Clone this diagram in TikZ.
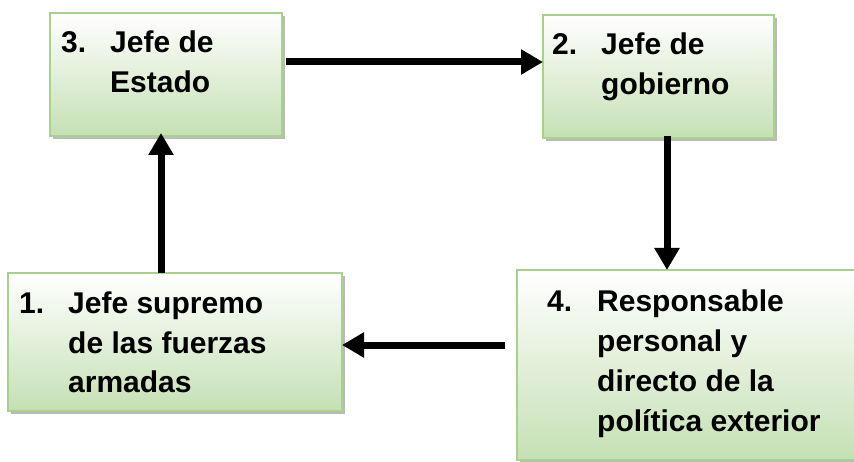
\documentclass[tikz,border=0pt]{standalone}
\usepackage{fontspec}
\setmainfont{Liberation Sans}
\usepackage{tikz}
\usetikzlibrary{arrows.meta}
\usetikzlibrary{shadows}
\definecolor{boxline}{RGB}{169,209,142}
\definecolor{boxfill}{RGB}{197,224,180}
\tikzset{
  box/.style={draw=boxline, line width=2.5pt, top color=white, bottom color=boxfill,
    inner sep=0pt, outer sep=0pt, anchor=north west,
    drop shadow={shadow xshift=3pt, shadow yshift=-3pt, fill=black!60, opacity=0.45}},
  lbl/.style={inner sep=0pt, anchor=base west, font=\fontsize{30}{40}\selectfont\bfseries},
  arr/.style={line width=7pt, -{Triangle[length=22pt,width=24pt]}}
}
\begin{document}
\begin{tikzpicture}[x=1pt,y=-1pt]
          \useasboundingbox (0,0) rectangle (854,462);
          \clip (0,0) rectangle (854,462);
          \node[box, minimum width=232pt, minimum height=123pt] (tid3) at (50,13){};
          \node[box, minimum width=231pt, minimum height=123pt] (tid2) at (543,15){};
          \node[box, minimum width=334pt, minimum height=138pt] (tid1) at (8,273){};
          \node[box, minimum width=345pt, minimum height=190pt] (tid4) at (517,270){};
          \node[lbl] (txt3) at ([shift={(11,40)}]tid3.north west)
            {\begin{tabular}[t]{@{}p{49pt}@{}l@{}}3. & Jefe de\\ & Estado\end{tabular}};
          \node[lbl] (txt2) at ([shift={(9,40)}]tid2.north west)
            {\begin{tabular}[t]{@{}p{49pt}@{}l@{}}2. & Jefe de\\ & gobierno\end{tabular}};
          \node[lbl] (txt1) at ([shift={(11,40)}]tid1.north west)
            {\begin{tabular}[t]{@{}p{49pt}@{}l@{}}1. & Jefe supremo\\ & de las fuerzas\\ & armadas\end{tabular}};
          \node[lbl] (txt4) at ([shift={(30,42)}]tid4.north west)
            {\begin{tabular}[t]{@{}p{50pt}@{}l@{}}4. & Responsable\\ & personal y\\ & directo de la\\ & política exterior\end{tabular}};
          \draw[arr] ([shift={(4,-12.5)}]tid3.east) -- ([yshift=12.5pt]tid3.east -| tid2.west);
          \draw[arr] ([shift={(8.5,-2)}]tid2.south) -- ([xshift=8.5pt]tid2.south |- tid4.north);
          \draw[arr] ([shift={(-12,-20)}]tid4.west) -- ([yshift=20pt]tid4.west -| tid1.east);
          \draw[arr, shorten >=-3pt] ([xshift=-14pt]tid1.north) -- ([xshift=-14pt]tid1.north |- tid3.south);
        \end{tikzpicture}
\end{document}
